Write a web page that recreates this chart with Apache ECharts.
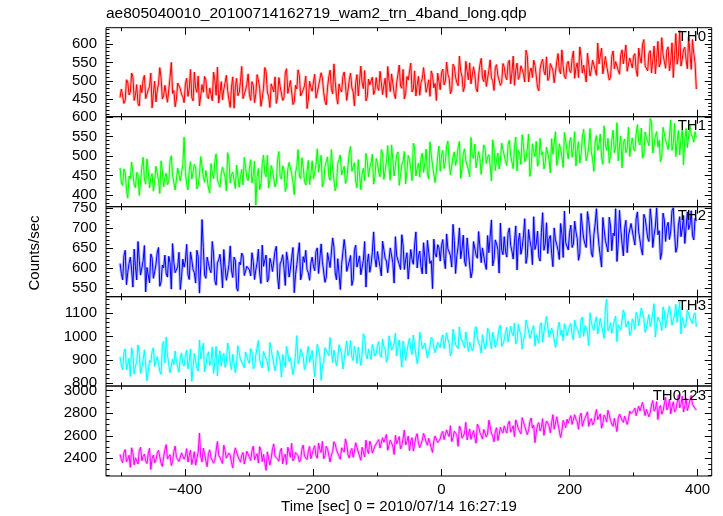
<!DOCTYPE html>
<html><head><meta charset="utf-8">
<script src="https://cdn.jsdelivr.net/npm/echarts@6/dist/echarts.min.js"></script>
<style>html,body{margin:0;padding:0;background:#fff}#c{width:723px;height:516px}</style>
</head><body><div id="c"></div>
<script>
const TITLE = 'ae805040010_20100714162719_wam2_trn_4band_long.qdp';
const X_NAME = 'Time [sec] 0 = 2010/07/14 16:27:19';
const Y_NAME = 'Counts/sec';
const panelNames = ['TH0', 'TH1', 'TH2', 'TH3', 'TH0123'];
// bins: "a" values at t = -502 + 4i, "b" values at t = -500 + 4i
const timeStart = -502, timeStep = 4;

const th0a = [
455,482,448,497,470,512,461,438,489,503,452,476,521,466,443,492,508,459,487,447,550,474,451,499,463,
441,507,478,455,524,469,432,490,512,458,481,446,502,537,466,449,495,474,428,511,483,460,498,452,476,
519,447,488,465,503,431,480,526,458,492,470,439,509,485,454,533,467,496,443,478,514,461,487,425,499,
472,518,456,491,507,444,483,529,465,498,437,476,512,488,452,521,470,495,459,540,479,446,505,487,463,
509,474,531,488,455,502,519,466,495,543,480,451,512,497,470,527,489,461,506,538,484,458,515,493,521,
476,532,499,518,465,545,510,487,526,471,553,503,492,538,479,516,561,498,485,529,507,474,544,519,496,
537,503,556,521,488,548,514,531,497,569,525,509,542,482,533,559,516,501,547,528,493,574,519,538,506,
553,522,581,536,509,564,543,497,571,530,558,515,546,589,524,540,502,567,533,555,518,584,541,526,562,
535,574,512,563,598,541,527,582,556,519,607,548,571,534,592,553,509,628,566,540,585,557,619,531,574,
478];
const th0b = [
478,439,503,462,521,447,490,432,468,515,456,484,427,499,473,536,451,488,442,509,466,430,494,479,457,
492,458,531,446,480,513,437,469,503,452,486,524,461,440,498,477,515,449,483,426,507,468,539,455,491,
463,498,441,517,479,452,536,470,428,494,511,457,485,447,522,466,501,436,488,530,459,476,513,448,482,
497,453,486,522,468,435,511,479,546,458,492,470,524,447,503,481,432,517,464,495,528,455,489,510,474,
482,526,463,507,539,471,494,452,518,486,531,466,502,548,478,459,512,495,536,469,503,527,481,447,516,
522,489,551,507,476,538,495,567,513,484,526,549,491,518,470,543,508,529,482,557,501,536,515,488,547,
511,548,492,567,529,504,541,518,583,497,535,556,514,473,549,526,565,508,538,495,552,529,584,512,546,
528,561,507,549,592,521,538,575,513,556,530,602,544,519,566,537,509,581,552,528,571,546,597,523,559,
567,529,589,548,612,537,575,522,594,561,538,617,553,584,527,603,569,545,636,558,591,533,576,612,549];

const th1a = [
470,425,458,392,441,483,419,452,436,497,428,461,445,410,474,439,488,421,456,433,501,447,415,465,438,
549,428,463,441,479,416,452,494,433,468,405,457,487,439,420,472,446,509,431,459,417,482,448,426,470,
437,491,452,374,468,429,503,447,418,476,459,432,512,441,466,423,484,455,401,473,449,496,435,461,427,
488,445,519,456,421,473,498,438,467,411,482,503,449,430,476,525,458,436,491,414,469,507,447,483,428,
494,458,517,440,486,471,529,449,503,425,478,512,462,491,437,524,469,446,508,483,455,537,476,432,498,
461,515,487,539,452,498,476,523,443,507,488,465,548,494,470,512,453,529,481,504,436,519,492,467,533,
514,476,541,497,523,462,508,555,486,519,448,532,499,474,546,511,483,528,457,505,563,492,517,471,538,
493,548,521,475,537,506,569,488,524,512,461,553,530,497,578,515,482,541,509,586,526,470,544,518,499,
547,513,581,529,495,562,538,597,508,551,523,486,574,541,517,593,532,499,566,545,478,571,527,555,536,
548];
const th1b = [
431,467,412,449,485,426,458,399,472,441,493,418,455,437,479,404,462,446,427,488,451,413,469,436,478,
458,413,486,437,470,425,499,447,463,418,481,442,506,429,455,474,411,491,453,438,477,420,466,497,444,
469,431,487,447,414,478,456,502,438,463,421,492,448,475,409,467,484,433,458,517,442,471,426,489,453,
441,478,459,502,432,486,447,517,463,425,491,452,474,438,509,461,483,419,496,455,437,488,471,505,446,
482,447,506,463,527,438,491,474,511,452,486,429,502,467,533,449,482,495,458,518,441,503,478,461,526,
503,468,526,482,451,511,494,538,467,519,486,447,502,531,475,493,458,521,498,476,542,463,508,489,517,
486,531,502,468,549,515,479,526,494,557,471,512,538,485,503,467,523,491,545,508,476,532,499,561,514,
536,497,563,518,482,549,526,503,571,492,538,515,557,479,529,546,502,567,521,488,552,534,509,574,527,
519,558,536,572,504,547,527,589,512,563,541,498,576,529,552,515,584,538,503,567,544,522,581,549,563];

const th2a = [
612,571,645,590,628,553,604,667,583,619,541,598,636,575,610,652,566,601,587,630,548,615,594,640,579,
603,660,572,621,589,645,538,722,583,628,597,667,569,614,635,551,602,588,656,577,620,543,609,631,593,
604,581,617,596,648,562,605,633,574,612,590,655,548,619,600,641,578,627,539,609,664,586,615,597,570,
628,594,651,583,617,565,639,602,676,589,624,547,611,643,596,632,571,658,605,584,620,553,636,609,691,
603,645,581,667,618,594,652,563,631,610,684,597,639,575,622,658,601,643,586,627,670,612,549,636,659,
618,672,599,648,631,710,587,655,624,683,605,641,576,667,633,692,614,650,597,639,721,622,661,588,645,
679,628,701,643,666,596,688,652,724,631,670,609,647,693,618,739,660,637,682,604,671,645,712,627,664,
646,708,661,691,620,737,675,652,719,638,684,749,657,603,696,670,728,644,681,617,745,663,700,639,686,
712,658,741,690,633,725,676,749,652,703,684,622,738,667,715,693,751,640,708,679,732,658,697,744,671,
718];
const th2b = [
587,631,559,612,596,648,571,620,583,657,602,564,626,591,639,555,608,633,578,615,662,589,604,547,623,
618,584,641,597,563,629,606,652,575,612,589,636,558,621,601,647,570,609,594,628,551,615,638,582,605,
596,639,572,614,587,658,603,566,625,592,643,578,611,634,557,619,598,652,584,607,571,629,645,589,613,
605,642,587,661,619,578,634,598,653,571,626,609,672,592,618,557,645,603,631,584,667,614,590,641,625,
642,603,668,625,589,651,614,679,636,597,658,622,573,647,610,691,631,604,664,586,640,619,673,628,652,
657,624,686,641,603,669,632,701,648,617,676,638,592,663,625,694,651,611,682,639,606,671,647,713,634,
642,689,657,623,706,668,635,681,612,697,653,729,661,628,690,645,714,674,637,701,659,622,686,743,667,
689,652,718,674,637,703,661,742,684,628,711,693,655,727,670,641,706,688,749,662,697,631,720,681,712,
676,724,691,648,735,702,667,718,683,751,694,639,721,705,672,744,687,653,729,698,662,741,709,682,725];

const th3a = [
912,858,947,881,829,923,875,964,842,901,936,817,889,952,866,908,838,979,998,921,853,880,893,847,930,
874,941,896,808,927,862,985,905,849,918,876,956,893,831,939,910,868,972,887,924,845,961,902,879,934,
897,948,862,921,983,879,936,905,851,967,912,884,943,826,929,958,893,917,870,1004,902,939,858,925,889,
941,828,967,914,875,952,928,996,889,936,907,970,861,944,919,983,898,931,954,876,1012,923,947,902,965,
929,978,911,957,890,1003,942,968,917,985,869,951,936,994,923,961,884,1018,947,972,909,956,987,931,975,
953,1007,941,986,918,1031,965,949,994,972,1019,937,983,956,1043,974,929,1001,962,1025,948,992,970,1036,958,
987,1039,968,1015,1058,981,1023,946,1004,1067,992,1031,959,1012,1049,976,1027,1093,995,1018,954,1041,1006,983,1035,
1012,1056,987,1043,1019,1074,1001,1038,961,1062,1027,1085,1009,1046,993,1160,1034,1013,1069,978,1051,1024,1097,1040,1005,
1076,1031,1089,1052,1114,1018,1067,1043,1101,998,1083,1059,1127,1036,1072,1094,1047,1138,1065,1011,1088,1056,1119,1074,1093,
1042];
const th3b = [
876,931,858,907,952,839,889,925,866,943,811,898,936,872,914,851,962,887,920,845,903,938,869,912,884,
919,862,947,815,926,853,904,971,879,935,897,842,958,911,873,929,890,946,857,918,883,967,901,866,932,
885,934,871,952,903,866,928,891,975,913,854,940,897,923,868,951,909,837,926,884,947,912,873,958,921,
948,907,972,812,889,956,918,993,942,874,965,927,903,981,936,912,958,885,949,923,997,904,941,966,917,
962,921,989,946,908,975,937,1014,953,926,981,898,967,944,1006,958,919,985,939,972,911,996,954,927,981,
989,948,1016,971,937,1002,964,1041,982,951,1013,976,939,1027,994,961,1008,946,1035,979,1018,954,997,1049,968,
1018,976,1044,1003,969,1052,1011,987,1071,1024,995,1047,1008,972,1059,1021,1086,997,1036,1013,979,1062,1028,1055,1004,
1046,1007,1071,1032,995,1083,1047,1018,1102,1039,1064,1011,1078,1043,1122,1025,1059,1006,1088,1051,1029,1114,1041,1067,1019,
1063,1104,1047,1122,1078,1036,1095,1068,1141,1052,1087,1026,1109,1074,1131,1049,1092,1061,1148,1083,1038,1115,1079,1056,1102];

const th0123a = [
2435,2362,2478,2391,2320,2452,2405,2349,2497,2418,2376,2443,2301,2429,2386,2471,2357,2414,2521,2398,2337,2462,2409,2372,2448,
2392,2486,2423,2345,2459,2401,2625,2368,2437,2326,2475,2410,2383,2549,2431,2354,2468,2396,2427,2315,2493,2418,2366,2451,2402,
2446,2381,2507,2419,2358,2472,2436,2293,2461,2402,2528,2427,2374,2489,2411,2345,2456,2533,2398,2443,2367,2482,2420,2389,2505,
2437,2512,2401,2478,2549,2423,2486,2368,2461,2527,2445,2392,2503,2572,2431,2467,2409,2538,2456,2383,2497,2561,2442,2519,2476,
2501,2566,2478,2543,2612,2489,2557,2434,2528,2593,2512,2651,2547,2468,2583,2526,2619,2495,2560,2637,2516,2574,2452,2598,2541,
2572,2638,2551,2617,2689,2583,2624,2506,2660,2597,2719,2612,2568,2647,2534,2681,2603,2656,2589,2738,2621,2547,2672,2609,2643,
2688,2624,2731,2659,2592,2706,2647,2762,2683,2611,2725,2668,2539,2697,2644,2752,2679,2713,2626,2788,2661,2702,2584,2736,2672,
2712,2779,2695,2746,2658,2801,2729,2768,2683,2752,2716,2834,2741,2667,2785,2722,2810,2704,2756,2638,2793,2739,2775,2701,2819,
2788,2846,2762,2821,2897,2779,2852,2805,2913,2837,2744,2869,2818,2941,2856,2794,2902,2831,2964,2877,2812,2935,2866,2958,2891,
2829];
const th0123b = [
2388,2451,2369,2427,2493,2342,2416,2468,2379,2437,2354,2489,2402,2361,2445,2413,2328,2476,2395,2432,2371,2508,2417,2384,2459,
2421,2367,2472,2398,2339,2456,2412,2491,2376,2443,2405,2357,2468,2429,2382,2517,2401,2447,2364,2435,2478,2393,2426,2349,2463,
2408,2469,2386,2441,2503,2372,2427,2458,2339,2481,2416,2395,2462,2351,2437,2498,2409,2378,2451,2424,2386,2517,2433,2462,2397,
2482,2423,2536,2451,2397,2508,2469,2431,2547,2476,2418,2493,2455,2524,2402,2487,2463,2531,2439,2498,2412,2475,2552,2446,2509,
2548,2491,2583,2526,2472,2561,2509,2604,2537,2483,2575,2519,2598,2551,2464,2589,2532,2503,2621,2546,2578,2493,2556,2613,2529,
2618,2567,2652,2593,2549,2641,2608,2687,2579,2624,2563,2661,2612,2586,2703,2628,2571,2649,2617,2684,2596,2637,2558,2676,2625,
2651,2703,2632,2689,2741,2664,2617,2722,2686,2649,2758,2695,2633,2717,2672,2604,2731,2685,2714,2658,2769,2692,2641,2709,2748,
2748,2701,2787,2726,2769,2683,2754,2812,2731,2697,2779,2744,2795,2712,2763,2826,2738,2684,2771,2752,2803,2719,2787,2746,2798,
2821,2779,2863,2805,2887,2836,2768,2872,2819,2903,2847,2792,2884,2831,2926,2857,2813,2893,2848,2951,2869,2824,2917,2878,2843];

const xTickLabels = [-400, -200, 0, 200, 400];
const xMinorTicks = [-500, -300, -100, 100, 300];
const yTickLabels = [
  [450, 500, 550, 600],
  [400, 450, 500, 550, 600],
  [550, 600, 650, 700, 750],
  [800, 900, 1000, 1100],
  [2400, 2600, 2800, 3000]
];
const yMinorStep = [10, 10, 10, 20, 50];
const yRanges = [[403, 644], [370, 601.5], [529, 754], [788, 1171], [2243, 3042]];
const xRange = [-524, 422];

// ---- layout / style ----
const seriesA = [th0a, th1a, th2a, th3a, th0123a];
const seriesB = [th0b, th1b, th2b, th3b, th0123b];
const colors = ['#ff0000', '#00ff00', '#0000ff', '#00ffff', '#ff00ff'];
const FONT = 'Liberation Sans, Arial, Helvetica, sans-serif';
const LEFT = 106, RIGHT = 11.3;
const tops = [27.7, 116.7, 206.7, 296.7, 386];
const heights = [89, 90, 90, 89.3, 90];
const AX = '#000';

function minorList(rng, step, majors) {
  const out = [];
  for (let v = Math.ceil(rng[0] / step) * step; v <= rng[1]; v += step) {
    if (majors.indexOf(v) < 0) out.push(v);
  }
  return out;
}
function merge(a, b) {
  const out = [];
  for (let i = 0; i < a.length; i++) {
    out.push([timeStart + i * timeStep, a[i]]);
    if (i < b.length) out.push([timeStart + 2 + i * timeStep, b[i]]);
  }
  return out;
}

const grid = [], xAxis = [], yAxis = [], series = [], graphic = [];
for (let g = 0; g < 5; g++) {
  grid.push({ left: LEFT, right: RIGHT, top: tops[g], height: heights[g],
    show: true, borderColor: AX, borderWidth: 1, backgroundColor: 'transparent' });
  const isLast = g === 4;
  const xa = (pos, vals, len, labels) => ({
    type: 'value', gridIndex: g, position: pos, min: xRange[0], max: xRange[1],
    axisLine: { show: false, onZero: false }, splitLine: { show: false },
    axisTick: { show: true, inside: true, length: len, customValues: vals, lineStyle: { color: AX, width: 1 } },
    axisLabel: labels ? { show: true, customValues: vals, color: '#000', fontSize: 15, fontFamily: FONT, margin: 6,
      formatter: v => String(v).replace('-', '\u2212') } : { show: false }
  });
  xAxis.push(xa('bottom', xTickLabels, 7, isLast));
  xAxis.push(xa('bottom', xMinorTicks, 3.5, false));
  xAxis.push(xa('top', xTickLabels, 7, false));
  xAxis.push(xa('top', xMinorTicks, 3.5, false));
  const majors = yTickLabels[g];
  const minors = minorList(yRanges[g], yMinorStep[g], majors);
  const ya = (pos, vals, len, labels) => ({
    type: 'value', gridIndex: g, position: pos, min: yRanges[g][0], max: yRanges[g][1],
    axisLine: { show: false, onZero: false }, splitLine: { show: false },
    axisTick: { show: true, inside: true, length: len, customValues: vals, lineStyle: { color: AX, width: 1 } },
    axisLabel: labels ? { show: true, customValues: vals, color: '#000', fontSize: 15, fontFamily: FONT, margin: 9,
      formatter: v => String(v) } : { show: false }
  });
  yAxis.push(ya('left', majors, 7, true));
  yAxis.push(ya('left', minors, 3.5, false));
  yAxis.push(ya('right', majors, 7, false));
  yAxis.push(ya('right', minors, 3.5, false));

  const data = merge(seriesA[g], seriesB[g]);
  series.push({
    type: 'line', xAxisIndex: 4 * g, yAxisIndex: 4 * g, data: data,
    showSymbol: false, symbol: 'none', animation: false, sampling: null,
    lineStyle: { color: colors[g], width: 3, opacity: 0.28 }, z: 2
  });
  series.push({
    type: 'line', xAxisIndex: 4 * g, yAxisIndex: 4 * g, data: data,
    showSymbol: false, symbol: 'none', animation: false, sampling: null,
    lineStyle: { color: colors[g], width: 1 }, z: 3
  });
  graphic.push({ type: 'text', right: 17, top: tops[g] + 2, z: 10,
    style: { text: panelNames[g], fill: '#000', font: '15px ' + FONT } });
}
graphic.push({ type: 'text', left: 106, top: 6, style: { text: TITLE, fill: '#000', font: '15.5px ' + FONT } });
graphic.push({ type: 'text', x: 399, y: 507, style: { text: X_NAME, fill: '#000', font: '15px ' + FONT, align: 'center', verticalAlign: 'middle' } });
graphic.push({ type: 'text', x: 35, y: 253, rotation: Math.PI / 2, style: { text: Y_NAME, fill: '#000', font: '15px ' + FONT, align: 'center', verticalAlign: 'middle' } });

const chart = echarts.init(document.getElementById('c'), null, { renderer: 'canvas' });
chart.setOption({ animation: false, backgroundColor: '#fff', grid, xAxis, yAxis, series, graphic });
</script>
</body></html>
